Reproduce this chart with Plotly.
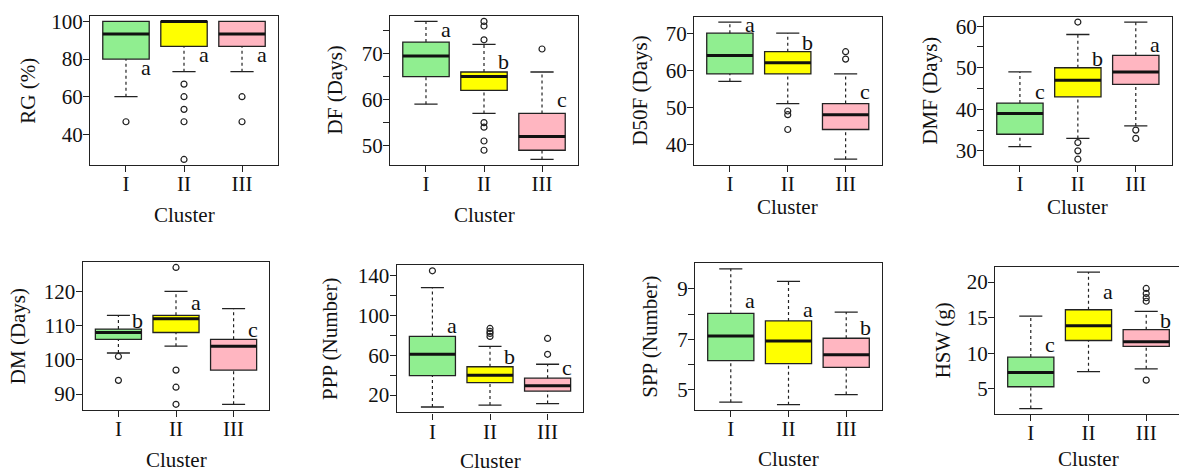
import plotly.graph_objects as go

# ---------------- data ----------------
clusters = ["I", "II", "III"]
positions = [1, 2, 3]
box_colors = ["#90EE90", "#FFFF00", "#FFB6C1"]

RG_low = [60, 73.3, 73.3]
RG_q1 = [80, 86.7, 86.7]
RG_med = [93.3, 100, 93.3]
RG_q3 = [100, 100, 100]
RG_high = [100, 100, 100]
RG_out = [[46.7], [66.7, 60, 53.3, 46.7, 26.7], [60, 46.7]]
RG_letters = ["a", "a", "a"]
RG_letter_y = [74.3, 81.3, 81.3]

DF_low = [59, 57, 47]
DF_q1 = [65, 62, 49]
DF_med = [69.5, 65, 52]
DF_q3 = [72.5, 66, 57]
DF_high = [77, 72, 66]
DF_out = [[], [77, 76, 73, 55, 54, 51, 49], [71]]
DF_letters = ["a", "b", "c"]
DF_letter_y = [74.9, 68.3, 59.6]

D50F_low = [57, 51, 36]
D50F_q1 = [59, 59, 44]
D50F_med = [64, 62, 48]
D50F_q3 = [70, 65, 51]
D50F_high = [73, 70, 59]
D50F_out = [[], [49, 48, 44], [65, 63]]
D50F_letters = ["a", "b", "c"]
D50F_letter_y = [71.9, 67.6, 53.7]

DMF_low = [31, 33, 36]
DMF_q1 = [34, 43, 46]
DMF_med = [39, 47, 49]
DMF_q3 = [41.5, 50, 53]
DMF_high = [49, 58, 61]
DMF_out = [[], [61, 32, 30, 28], [35, 33]]
DMF_letters = ["c", "b", "a"]
DMF_letter_y = [43.9, 52.2, 55]

DM_low = [102, 104, 87]
DM_q1 = [106, 108, 97]
DM_med = [108, 112, 104]
DM_q3 = [109, 113, 106]
DM_high = [113, 120, 115]
DM_out = [[101, 94], [127, 97, 92, 87], []]
DM_letters = ["b", "a", "c"]
DM_letter_y = [111.4, 116.3, 108.3]

PPP_low = [8, 10, 11.5]
PPP_q1 = [39.5, 32.5, 24]
PPP_med = [61, 40, 29.5]
PPP_q3 = [79, 48.5, 37]
PPP_high = [128, 69, 51]
PPP_out = [[145], [79, 82, 84, 87], [61, 77]]
PPP_letters = ["a", "b", "c"]
PPP_letter_y = [88, 58.5, 46]

SPP_low = [4.5, 4.4, 4.8]
SPP_q1 = [6.15, 6.03, 5.88]
SPP_med = [7.13, 6.93, 6.38]
SPP_q3 = [8.03, 7.73, 7.04]
SPP_high = [9.8, 9.3, 8.08]
SPP_out = [[], [], []]
SPP_letters = ["a", "a", "b"]
SPP_letter_y = [8.48, 8.1, 7.45]

HSW_low = [2.2, 7.39, 7.8]
HSW_q1 = [5.27, 11.78, 10.94]
HSW_med = [7.29, 13.87, 11.6]
HSW_q3 = [9.45, 16.1, 13.3]
HSW_high = [15.2, 21.4, 15.88]
HSW_out = [[], [], [6.2, 17.3, 17.8, 18.4, 19.1]]
HSW_letters = ["c", "a", "b"]
HSW_letter_y = [10.9, 18.4, 14.6]

y_titles = ["RG (%)", "DF (Days)", "D50F (Days)", "DMF (Days)",
            "DM (Days)", "PPP (Number)", "SPP (Number)", "HSW (g)"]
y_ticks = [[40, 60, 80, 100], [50, 55, 60, 65, 70, 75], [40, 50, 60, 70],
           [30, 35, 40, 45, 50, 55, 60], [90, 100, 110, 120],
           [20, 40, 60, 80, 100, 120, 140], [5, 6, 7, 8, 9], [5, 10, 15, 20]]
y_ticklabels = [["40", "60", "80", "100"], ["50", "", "60", "", "70", ""],
                ["40", "50", "60", "70"], ["30", "", "40", "", "50", "", "60"],
                ["90", "100", "110", "120"], ["20", "", "60", "", "100", "", "140"],
                ["5", "", "7", "", "9"], ["5", "10", "15", "20"]]
x_title = "Cluster"

panels = [
    (RG_low, RG_q1, RG_med, RG_q3, RG_high, RG_out, RG_letters, RG_letter_y),
    (DF_low, DF_q1, DF_med, DF_q3, DF_high, DF_out, DF_letters, DF_letter_y),
    (D50F_low, D50F_q1, D50F_med, D50F_q3, D50F_high, D50F_out, D50F_letters, D50F_letter_y),
    (DMF_low, DMF_q1, DMF_med, DMF_q3, DMF_high, DMF_out, DMF_letters, DMF_letter_y),
    (DM_low, DM_q1, DM_med, DM_q3, DM_high, DM_out, DM_letters, DM_letter_y),
    (PPP_low, PPP_q1, PPP_med, PPP_q3, PPP_high, PPP_out, PPP_letters, PPP_letter_y),
    (SPP_low, SPP_q1, SPP_med, SPP_q3, SPP_high, SPP_out, SPP_letters, SPP_letter_y),
    (HSW_low, HSW_q1, HSW_med, HSW_q3, HSW_high, HSW_out, HSW_letters, HSW_letter_y),
]

# ---------------- layout geometry (pixels) ----------------
W, H = 1179, 472
frames = [(90, 278, 10, 161), (390, 578, 10, 161), (694, 881.5, 10.7, 160.7), (984, 1171.7, 10.7, 160.7),
          (82.7, 269.3, 259.3, 409), (396.7, 583.3, 262.7, 411.7), (695, 882, 260.7, 409.3), (995, 1182, 264, 413.3)]
ytitle_x = [28.3, 335, 640, 930, 18.3, 330, 650, 943]
xtitle_y = [212, 212, 204, 204, 460, 460.5, 458.5, 458.5]

FONT = "Liberation Serif, Times New Roman, serif"
BOXW = 0.8
CAPW = 0.4

fig = go.Figure()
annotations = []
layout_axes = {}

for i, (low, q1, med, q3, high, outs, letters, letter_y) in enumerate(panels):
    k = i + 1
    xa = "x" if k == 1 else f"x{k}"
    ya = "y" if k == 1 else f"y{k}"
    left, right, top, bottom = frames[i]
    # R-style 4% extension of data range
    allv = low + high + [v for o in outs for v in o]
    vmin, vmax = min(allv), max(allv)
    ext = 0.04 * (vmax - vmin)
    yr = [vmin - ext, vmax + ext]
    xr = [0.38, 3.62]
    xr_right_px = right
    if right > W:
        xr = [0.38, 0.38 + 3.24 * (W - left) / (right - left)]
        xr_right_px = W

    for j in range(3):
        p = positions[j]
        fig.add_trace(go.Box(
            x=[p], q1=[q1[j]], median=[med[j]], q3=[q3[j]],
            lowerfence=[q1[j]], upperfence=[q3[j]],
            width=BOXW, fillcolor=box_colors[j],
            line=dict(color="#222222", width=1.3),
            boxpoints=False, showlegend=False, hoverinfo="skip",
            xaxis=xa, yaxis=ya))
        # thick median
        fig.add_trace(go.Scatter(
            x=[p - BOXW / 2, p + BOXW / 2], y=[med[j], med[j]], mode="lines",
            line=dict(color="#111111", width=3), showlegend=False, hoverinfo="skip",
            xaxis=xa, yaxis=ya))
        # dashed whiskers
        wx, wy = [], []
        if high[j] > q3[j]:
            wx += [p, p, None]
            wy += [q3[j], high[j], None]
        if low[j] < q1[j]:
            wx += [p, p, None]
            wy += [low[j], q1[j], None]
        if wx:
            fig.add_trace(go.Scatter(
                x=wx, y=wy, mode="lines",
                line=dict(color="#222222", width=1.2, dash="3px,3px"),
                showlegend=False, hoverinfo="skip", xaxis=xa, yaxis=ya))
        # caps
        cx, cy = [], []
        if high[j] > q3[j]:
            cx += [p - CAPW / 2, p + CAPW / 2, None]
            cy += [high[j], high[j], None]
        if low[j] < q1[j]:
            cx += [p - CAPW / 2, p + CAPW / 2, None]
            cy += [low[j], low[j], None]
        if cx:
            fig.add_trace(go.Scatter(
                x=cx, y=cy, mode="lines", line=dict(color="#222222", width=1.3),
                showlegend=False, hoverinfo="skip", xaxis=xa, yaxis=ya))
        # outliers
        if outs[j]:
            fig.add_trace(go.Scatter(
                x=[p] * len(outs[j]), y=outs[j], mode="markers",
                marker=dict(symbol="circle-open", size=6, color="#222222",
                            line=dict(width=1.2, color="#222222")),
                showlegend=False, hoverinfo="skip", xaxis=xa, yaxis=ya))
        # significance letters
        annotations.append(dict(
            x=p + 0.34, y=letter_y[j], xref=xa, yref=ya, text=letters[j],
            showarrow=False, xanchor="center", yanchor="middle",
            yshift=0 if letters[j] == "b" else 2,
            font=dict(family=FONT, size=22, color="#111111")))

    layout_axes["xaxis" if k == 1 else f"xaxis{k}"] = dict(
        domain=[left / W, xr_right_px / W], range=xr, anchor=ya,
        tickvals=positions, ticktext=clusters, ticks="outside", ticklen=6,
        tickwidth=1.2, tickcolor="#222222", showline=True, linecolor="#222222",
        linewidth=1.3, mirror=True, showgrid=False, zeroline=False,
        ticklabelstandoff=-6,
        tickfont=dict(family=FONT, size=21, color="#111111"), fixedrange=True)
    layout_axes["yaxis" if k == 1 else f"yaxis{k}"] = dict(
        domain=[(H - bottom) / H, (H - top) / H], range=yr, anchor=xa,
        tickvals=y_ticks[i], ticktext=y_ticklabels[i], ticks="outside", ticklen=6,
        tickwidth=1.2, tickcolor="#222222", showline=True, linecolor="#222222",
        linewidth=1.3, mirror=(right <= W), showgrid=False, zeroline=False,
        ticklabelstandoff=-4,
        tickfont=dict(family=FONT, size=21, color="#111111"), fixedrange=True)

    # axis titles
    annotations.append(dict(
        x=ytitle_x[i] / W, y=(H - (top + bottom) / 2) / H, xref="paper", yref="paper",
        text=y_titles[i], textangle=-90, showarrow=False, xanchor="center", yanchor="middle",
        font=dict(family=FONT, size=21, color="#111111")))
    annotations.append(dict(
        x=(left + right) / 2 / W,
        y=(H - xtitle_y[i]) / H, xref="paper", yref="paper",
        text=x_title, showarrow=False, xanchor="center", yanchor="middle",
        font=dict(family=FONT, size=21, color="#111111")))

fig.update_layout(
    width=W, height=H, margin=dict(l=0, r=0, t=0, b=0),
    paper_bgcolor="white", plot_bgcolor="white", showlegend=False,
    annotations=annotations, **layout_axes)

fig.write_html("out.html", config={"displayModeBar": False},
               post_script="document.body.style.margin='0';document.body.style.overflow='hidden';")
